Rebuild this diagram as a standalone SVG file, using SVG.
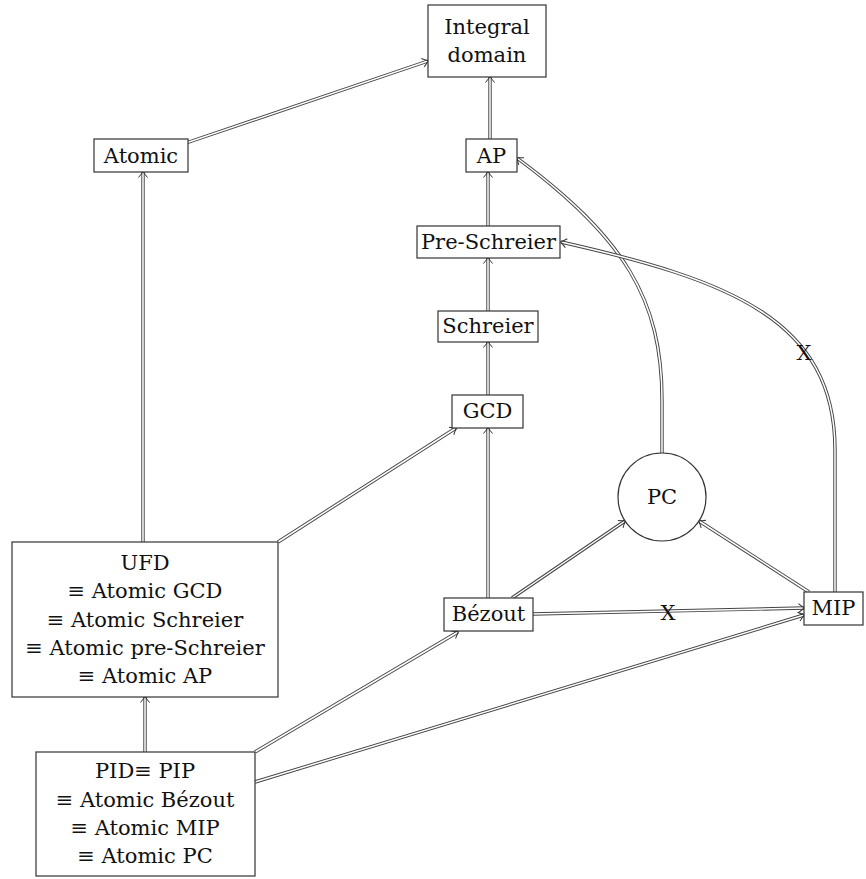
<svg xmlns="http://www.w3.org/2000/svg" width="866" height="879" viewBox="0 0 866 879">
<style>
text{font-family:"DejaVu Serif","Liberation Serif",serif;font-size:21px;fill:#111;text-anchor:middle}
.box{fill:#fff;stroke:#333;stroke-width:1.2}
.o{fill:none;stroke:#444;stroke-width:3.4}
.i{fill:none;stroke:#fff;stroke-width:1.5;marker-end:url(#imp)}
</style>
<defs>
<marker id="imp" markerUnits="userSpaceOnUse" markerWidth="14" markerHeight="14" refX="0" refY="0" viewBox="-8 -7 10 14" orient="auto" overflow="visible">
<path d="M-5.5,-4.5 Q-1.5,-1.2 0.5,0 Q-1.5,1.2 -5.5,4.5" fill="none" stroke="#333" stroke-width="1"/>
</marker>
</defs>
<g id="connectors">
<path class="o" d="M186,143 L428,61"/><path class="i" d="M186,143 L428,61"/>
<path class="o" d="M490,139 L490,77"/><path class="i" d="M490,139 L490,77"/>
<path class="o" d="M488,226 L488,172"/><path class="i" d="M488,226 L488,172"/>
<path class="o" d="M488,311 L488,258"/><path class="i" d="M488,311 L488,258"/>
<path class="o" d="M488,395 L488,342"/><path class="i" d="M488,395 L488,342"/>
<path class="o" d="M143,542 L143,172"/><path class="i" d="M143,542 L143,172"/>
<path class="o" d="M278,542 L456,428"/><path class="i" d="M278,542 L456,428"/>
<path class="o" d="M488,598 L488,428"/><path class="i" d="M488,598 L488,428"/>
<path class="o" d="M512,598 L625,521"/><path class="i" d="M512,598 L625,521"/>
<path class="o" d="M809,592 L699,521"/><path class="i" d="M809,592 L699,521"/>
<path class="o" d="M532,614 L804,608"/><path class="i" d="M532,614 L804,608"/>
<path class="o" d="M255,752 L458,632"/><path class="i" d="M255,752 L458,632"/>
<path class="o" d="M255,782 L804,615"/><path class="i" d="M255,782 L804,615"/>
<path class="o" d="M145,752 L145,697"/><path class="i" d="M145,752 L145,697"/>
<path class="o" d="M662,453 L662,400 C662,300 625,238 517,158"/><path class="i" d="M662,453 L662,400 C662,300 625,238 517,158"/>
<path class="o" d="M835,592 L835,450 C835,320 730,280 561,242"/><path class="i" d="M835,592 L835,450 C835,320 730,280 561,242"/>
<text x="668" y="620">X</text>
<text x="804" y="360">X</text>
</g>
<g id="integral-domain"><rect class="box" x="428" y="5" width="118" height="72"/><text x="487" y="34">Integral</text><text x="487" y="62">domain</text></g>
<g id="atomic"><rect class="box" x="94" y="139" width="94" height="33"/><text x="141" y="163">Atomic</text></g>
<g id="ap"><rect class="box" x="466" y="139" width="51" height="33"/><text x="491.5" y="163">AP</text></g>
<g id="pre-schreier"><rect class="box" x="417" y="226" width="143" height="32"/><text x="488.5" y="249">Pre-Schreier</text></g>
<g id="schreier"><rect class="box" x="438" y="311" width="100" height="31"/><text x="488" y="333">Schreier</text></g>
<g id="gcd"><rect class="box" x="452" y="395" width="71" height="33"/><text x="487.5" y="418">GCD</text></g>
<g id="pc"><circle cx="662" cy="497" r="44" fill="#fff" stroke="#333" stroke-width="1.2"/><text x="662" y="504">PC</text></g>
<g id="ufd"><rect class="box" x="12" y="542" width="266" height="155"/>
<text x="145" y="570">UFD</text><text x="145" y="598">≡ Atomic GCD</text><text x="145" y="627">≡ Atomic Schreier</text><text x="145" y="655">≡ Atomic pre-Schreier</text><text x="145" y="683">≡ Atomic AP</text></g>
<g id="bezout"><rect class="box" x="444" y="598" width="89" height="33"/><text x="488.5" y="621">Bézout</text></g>
<g id="mip"><rect class="box" x="804" y="592" width="59" height="33"/><text x="833.5" y="615">MIP</text></g>
<g id="pid"><rect class="box" x="36" y="752" width="219" height="124"/>
<text x="145" y="778">PID≡ PIP</text><text x="145" y="807">≡ Atomic Bézout</text><text x="145" y="835">≡ Atomic MIP</text><text x="145" y="863">≡ Atomic PC</text></g>
</svg>
